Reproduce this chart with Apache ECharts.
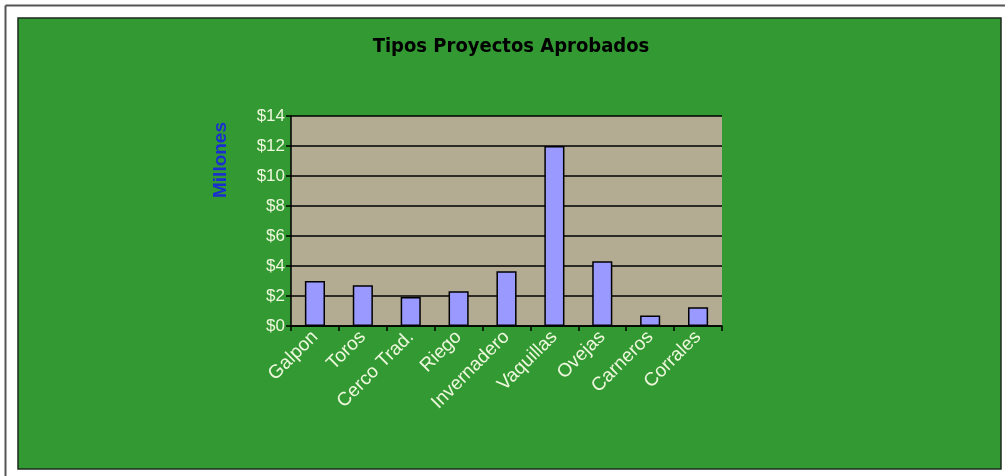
<!DOCTYPE html>
<html>
<head>
<meta charset="utf-8">
<script src="https://cdn.jsdelivr.net/npm/echarts@6/dist/echarts.min.js"></script>
<style>html,body{margin:0;padding:0;background:#fff}#c{width:1005px;height:476px}</style>
</head>
<body>
<div id="c"></div>
<script>
const categories = ['Galpon','Toros','Cerco Trad.','Riego','Invernadero','Vaquillas','Ovejas','Carneros','Corrales'];
const values = [3.0, 2.72, 1.93, 2.32, 3.65, 12.0, 4.32, 0.7, 1.25];
const yTicks = [0, 2, 4, 6, 8, 10, 12, 14];
const titleText = 'Tipos Proyectos Aprobados';
const yAxisTitle = 'Millones';

const labelColor = '#eef8dc';
const chart = echarts.init(document.getElementById('c'), null, {renderer: 'canvas'});
chart.setOption({
  backgroundColor: '#ffffff',
  animation: false,
  graphic: [
    {type: 'line', shape: {x1: 5.5, y1: 5.5, x2: 1005, y2: 5.5}, style: {stroke: '#555', lineWidth: 2}},
    {type: 'line', shape: {x1: 5.5, y1: 5.5, x2: 5.5, y2: 476}, style: {stroke: '#555', lineWidth: 2}},
    {type: 'rect', z: -10, shape: {x: 18, y: 18, width: 983, height: 451}, style: {fill: '#339933', stroke: '#1e2a1e', lineWidth: 1.5}},
    {type: 'text', z: 10, style: {text: titleText, font: 'bold 20px "Liberation Sans Narrow", "DejaVu Sans Condensed", Arial', fill: '#000', textAlign: 'center', textVerticalAlign: 'middle'}, position: [511, 47]},
    {type: 'text', z: 10, style: {text: yAxisTitle, font: 'bold 19px "Liberation Sans", Arial', fill: '#1a2fd0', textAlign: 'center', textVerticalAlign: 'middle'}, position: [221, 160], rotation: Math.PI / 2}
  ],
  grid: {left: 291, top: 116, right: 283, bottom: 150, show: true, backgroundColor: '#b4ac92', borderWidth: 0},
  xAxis: {
    type: 'category',
    data: categories,
    axisLine: {lineStyle: {color: '#000', width: 1.5}},
    axisTick: {show: true, alignWithLabel: false, length: 5, lineStyle: {color: '#000', width: 1.5}},
    axisLabel: {rotate: 45, color: labelColor, fontSize: 19, fontFamily: '"Liberation Sans", Arial', margin: 8, interval: 0}
  },
  yAxis: {
    type: 'value',
    min: yTicks[0], max: yTicks[yTicks.length - 1], interval: 2,
    axisLine: {show: true, lineStyle: {color: '#000', width: 1.5}},
    axisTick: {show: true, length: 5, lineStyle: {color: '#000', width: 1.5}},
    splitLine: {show: true, lineStyle: {color: '#000', width: 1.5}},
    axisLabel: {color: labelColor, fontSize: 17, fontFamily: '"Liberation Sans", Arial', margin: 6, formatter: v => '$' + v}
  },
  series: [{
    type: 'bar',
    data: values,
    barWidth: '42%',
    itemStyle: {color: '#9999ff', borderColor: '#000', borderWidth: 1.5}
  }]
});
</script>
</body>
</html>
